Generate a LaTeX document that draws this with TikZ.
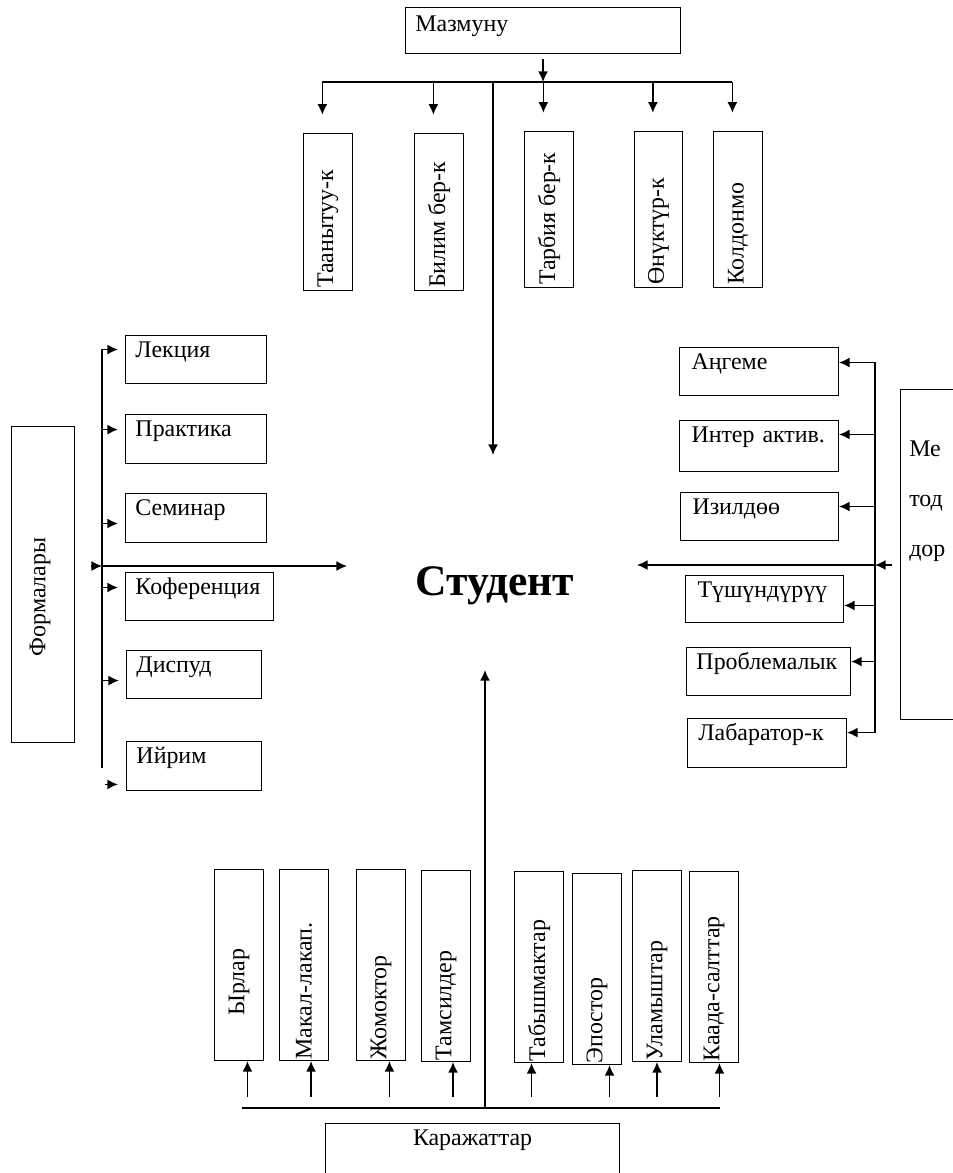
\documentclass[tikz,border=0pt]{standalone}
\usepackage{fontspec}
\setmainfont{Liberation Serif}
\usetikzlibrary{arrows.meta,positioning}
\tikzset{
  box/.style={draw, line width=0.7pt, inner sep=0pt, anchor=north west},
  hbox/.style={box, align=left, inner xsep=0.25cm, inner ysep=0pt, text height=0.55cm},
  vbox/.style={box, minimum width=1.225cm},
  vtext/.style={rotate=90, anchor=west, inner sep=0pt},
  ln/.style={line width=1pt},
  arr/.style={ln, -{Latex[length=7.5pt,width=7pt]}}
}

\begin{document}
\begin{tikzpicture}[x=0.025cm, y=-0.025cm, font=\fontsize{17}{20}\selectfont]
  \useasboundingbox[fill=white] (0,0) rectangle (953,1173);

  % Nodes: content
  \node[hbox, text width=6.375cm, text height=0.6cm, text depth=0.55cm] (maz) at (405,7) {Мазмуну};
  \node[vbox, minimum height=3.925cm] (tan) at (303,133) {};
  \node[vbox, minimum height=3.925cm] (bil) at (414,133) {};
  \node[vbox, minimum height=3.9cm] (tar) at (524,131) {};
  \node[vbox, minimum height=3.9cm, minimum width=1.2cm] (onu) at (634,131) {};
  \node[vbox, minimum height=3.9cm] (kol) at (713,131) {};
  \node[vtext] (tan-t) at ([yshift=2pt]tan.south) {Таанытуу-к};
  \node[vtext] (bil-t) at ([yshift=2pt]bil.south) {Билим бер-к};
  \node[vtext] (tar-t) at ([yshift=2pt]tar.south) {Тарбия бер-к};
  \node[vtext] (onu-t) at ([yshift=2pt]onu.south) {Өнүктүр-к};
  \node[vtext] (kol-t) at ([yshift=2pt]kol.south) {Колдонмо};

  % Nodes: forms
  \node[box, minimum width=1.575cm, minimum height=7.9cm] (form) at (11,426) {};
  \node[rotate=90, inner sep=0pt] (form-t) at (40,597) {Формалары};
  \node[hbox, text width=3.025cm, text depth=0.65cm] (lek) at (125,335) {Лекция};
  \node[hbox, text width=3.025cm, text depth=0.675cm] (pra) at (125,414) {Практика};
  \node[hbox, text width=3.025cm, text depth=0.675cm] (sem) at (125,493) {Семинар};
  \node[hbox, text width=3.2cm, text depth=0.65cm] (kof) at (125,572) {\mbox{Коференция}};
  \node[hbox, text width=2.875cm, text depth=0.65cm] (dis) at (126,650) {Диспуд};
  \node[hbox, text width=2.875cm, text depth=0.675cm] (iyr) at (126,741) {Ийрим};

  % Nodes: methods
  \node[hbox, inner xsep=0.3cm, text width=3.375cm, text depth=0.65cm] (ang) at (679,347) {Аңгеме};
  \node[hbox, inner xsep=0.3cm, text width=3.375cm, text depth=0.725cm] (int) at (679,420) {\mbox{Интер актив.}};
  \node[hbox, inner xsep=0.3cm, text width=3.35cm, text depth=0.65cm] (izi) at (680,492) {Изилдөө};
  \node[hbox, inner xsep=0.3cm, text width=3.35cm, text depth=0.625cm] (tus) at (685,575) {Түшүндүрүү};
  \node[hbox, text width=3.6cm, text depth=0.65cm] (pro) at (686,647) {\mbox{Проблемалык}};
  \node[hbox, inner xsep=0.275cm, text width=3.425cm, text depth=0.675cm] (lab) at (687,718) {Лабаратор-к};
  \node[box, minimum width=2.5cm, minimum height=8.25cm] (met) at (900,389) {};
  \node[anchor=north west, inner sep=0pt, align=left, font=\fontsize{17}{35.5}\selectfont] (met-t) at (909,441) {Ме\\тод\\дор};

  % Nodes: means
  \node[vbox, minimum height=4.775cm] (yrl) at (214,869) {};
  \node[vbox, minimum height=4.775cm] (mak) at (279,869) {};
  \node[vbox, minimum height=4.775cm] (jom) at (356,869) {};
  \node[vbox, minimum height=4.775cm] (tam) at (421,870) {};
  \node[vbox, minimum height=4.775cm] (tab) at (514,871) {};
  \node[vbox, minimum height=4.775cm] (epo) at (572,873) {};
  \node[vbox, minimum height=4.775cm] (ula) at (632,870) {};
  \node[vbox, minimum height=4.775cm] (kaa) at (689,871) {};
  \node[vtext] (yrl-t) at ([yshift=1.125cm]yrl.south) {Ырлар};
  \node[vtext] (mak-t) at ([yshift=1pt]mak.south) {Макал-лакап.};
  \node[vtext] (jom-t) at ([yshift=1pt]jom.south) {Жомоктор};
  \node[vtext] (tam-t) at ([yshift=1pt]tam.south) {Тамсилдер};
  \node[vtext] (tab-t) at ([yshift=1pt]tab.south) {Табышмактар};
  \node[vtext] (epo-t) at ([yshift=1pt]epo.south) {Эпостор};
  \node[vtext] (ula-t) at ([yshift=1pt]ula.south) {Уламыштар};
  \node[vtext] (kaa-t) at ([yshift=1pt]kaa.south) {Каада-салттар};
  \node[box, align=center, text width=7.35cm, text height=0.55cm, text depth=1.45cm] (kar) at (325,1123) {Каражаттар};

  % Centre
  \node[font=\fontsize{31}{36}\selectfont\bfseries] (stu) at (495,586) {Студент};

  % Coordinates
  \coordinate (br) at (493,82);
  \coordinate (stop) at (493,455);
  \coordinate (ls) at (102,349);
  \coordinate (lb) at (102,768);
  \coordinate (fa) at (91,566);
  \coordinate (stl) at (347,566);
  \coordinate (rs) at (875,362);
  \coordinate (rb) at (875,732.5);
  \coordinate (ma) at (892,565);
  \coordinate (str) at (637,565);
  \coordinate (bl) at (242,1108);
  \coordinate (bre) at (720,1108);
  \coordinate (bv) at (485,1108);
  \coordinate (sbot) at (485,670);
  \coordinate (ast) at (0,1097);

  % Arrows: top
  \draw[arr] ([yshift=-3.5pt]maz.south) -- (maz.south |- br);
  \draw[ln] ([xshift=-4pt]tan.north |- br) -- ([xshift=-4pt]kol.north |- br);
  \foreach \b in {tan,bil,tar,onu,kol}
    \draw[arr] ([xshift=-4pt]\b.north |- br) -- ([xshift=-4pt,yshift=13pt]\b.north);
  \draw[arr] (br) -- (stop);

  % Arrows: left
  \draw[ln] (ls) -- (lb);
  \foreach \n/\d in {lek/7.1, pra/6.7, sem/-3.9, kof/6.4, dis/-4.3}
    \draw[arr] ([yshift=\d pt]\n.west -| ls) -- ([xshift=-5pt, yshift=\d pt]\n.west);
  \draw[arr] ([xshift=-14.9pt, yshift=-13.1pt]iyr.west) -- ([xshift=-5.7pt, yshift=-13.1pt]iyr.west);
  \draw[arr] (fa) -- (fa -| ls);
  \draw[arr] (fa -| ls) -- (stl);

  % Arrows: right
  \draw[ln] (rs) -- (rb);
  \foreach \n/\d in {ang/6.4, int/8.2, izi/7.1, tus/-4.6, pro/7.1, lab/7.4}
    \draw[arr] ([yshift=\d pt]\n.east -| rs) -- ([yshift=\d pt]\n.east);
  \draw[arr] (ma) -- (ma -| rs);
  \draw[arr] (ma -| rs) -- (str);

  % Arrows: bottom
  \draw[ln] (bl) -- (bre);
  \draw[arr] (bv) -- (sbot);
  \foreach \n/\d in {yrl/6, mak/5, jom/6, tam/5, tab/-5.3, epo/8.9, ula/0, kaa/3.9}
    \draw[arr] ([xshift=\d pt]\n.south |- ast) -- ([xshift=\d pt]\n.south);
\end{tikzpicture}
\end{document}
